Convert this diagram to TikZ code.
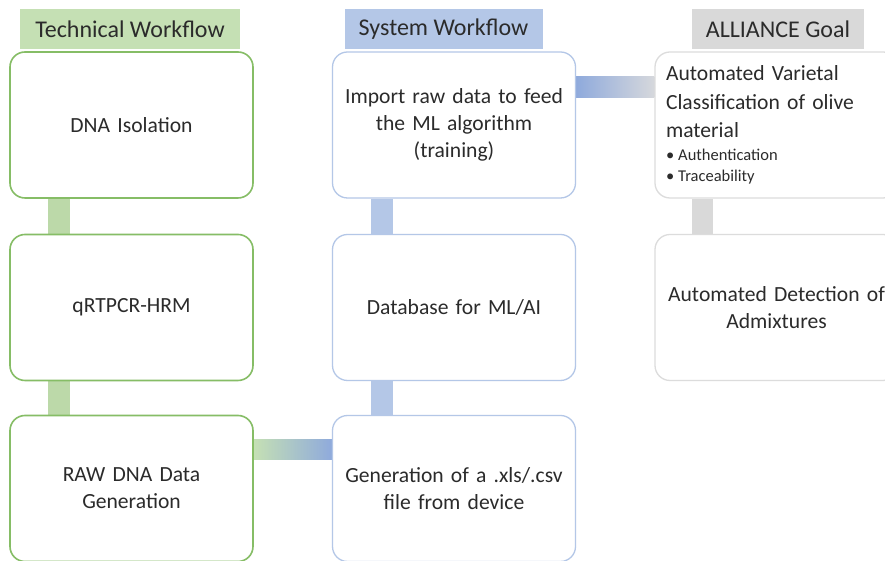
\documentclass[tikz,border=0pt]{standalone}
\usepackage{fontspec}
\setmainfont{Carlito}
\usetikzlibrary{backgrounds}
\definecolor{gtitle}{HTML}{C5E0B4}
\definecolor{gborder}{HTML}{86BD66}
\definecolor{gbar}{HTML}{BCD9A9}
\definecolor{btitle}{HTML}{B4C7E7}
\definecolor{bborder}{HTML}{B4C7E7}
\definecolor{bbar}{HTML}{B4C7E7}
\definecolor{bdark}{HTML}{8FAADC}
\definecolor{greytitle}{HTML}{D9D9D9}
\definecolor{greyborder}{HTML}{DCDCDC}
\definecolor{greyconn}{HTML}{D9D9D9}
\definecolor{greyend}{HTML}{D6D8DC}
\definecolor{txt}{HTML}{2B2B2B}
\tikzset{
  x=1pt, y=1pt,
  every node/.style={text=txt},
  titlebox/.style={minimum height=40pt, inner sep=0pt, font=\fontsize{24}{28}\selectfont},
  card/.style={rounded corners=15pt, fill=white, minimum width=243pt, minimum height=146pt,
    inner xsep=11pt, inner ysep=0pt, text width=221pt, align=center,
    font=\fontsize{21.6}{27}\selectfont},
  gcard/.style={card, draw=gborder, line width=1.6pt},
  bcard/.style={card, draw=bborder, line width=1.3pt},
  greycard/.style={card, draw=greyborder, line width=1.3pt},
}
\begin{document}
\begin{tikzpicture}
\clip (0,0) rectangle (885,561);

% titles
\node[titlebox, fill=gtitle, minimum width=220pt] (t1) at (130,532) {Technical Workflow};
\node[titlebox, fill=btitle, minimum width=198pt] (t2) at (443.5,532) {System Workflow};
\node[titlebox, fill=greytitle, minimum width=172pt] (t3) at (778,532) {ALLIANCE Goal};

% column 1
\node[gcard] (a1) at (131.5,436) {DNA Isolation};
\node[gcard] (a2) at (131.5,253.5) {qRTPCR-HRM};
\node[gcard] (a3) at (131.5,72.5) {RAW DNA Data\\Generation};

% column 2
\node[bcard] (b1) at (454,436) {Import raw data to feed\\the ML algorithm\\(training)};
\node[bcard] (b2) at (454,253.5) {Database for ML/AI};
\node[bcard] (b3) at (454,72.5) {Generation of a .xls/.csv\\file from device};

% column 3
\node[greycard, align=left] (c1) at (776.5,436) {{\fontsize{21.6}{28.5}\selectfont Automated Varietal\\Classification of olive\\material\par}\vspace{1pt}{\fontsize{16.5}{21.5}\selectfont \textbullet\hspace{4pt}Authentication\\\textbullet\hspace{4pt}Traceability\par}};
\node[greycard] (c2) at (776.5,253.5) {Automated Detection of\\Admixtures};

\begin{pgfonlayer}{background}
  \fill[white] (0,0) rectangle (885,561);
  % vertical connectors
  \fill[gbar] ([xshift=39pt]a1.south west) rectangle ([xshift=61pt]a2.north west);
  \fill[gbar] ([xshift=39pt]a2.south west) rectangle ([xshift=61pt]a3.north west);
  \fill[bbar] ([xshift=39pt]b1.south west) rectangle ([xshift=61pt]b2.north west);
  \fill[bbar] ([xshift=39pt]b2.south west) rectangle ([xshift=61pt]b3.north west);
  \fill[greyconn] ([xshift=38pt]c1.south west) rectangle ([xshift=59pt]c2.north west);
  % horizontal connectors
  \shade[left color=gtitle, right color=bdark] ([yshift=-25pt]a3.north east) rectangle ([yshift=-45pt]b3.north west);
  \shade[left color=bdark, right color=greyend] ([yshift=-25pt]b1.north east) rectangle ([yshift=-46pt]c1.north west);
\end{pgfonlayer}
\end{tikzpicture}
\end{document}
